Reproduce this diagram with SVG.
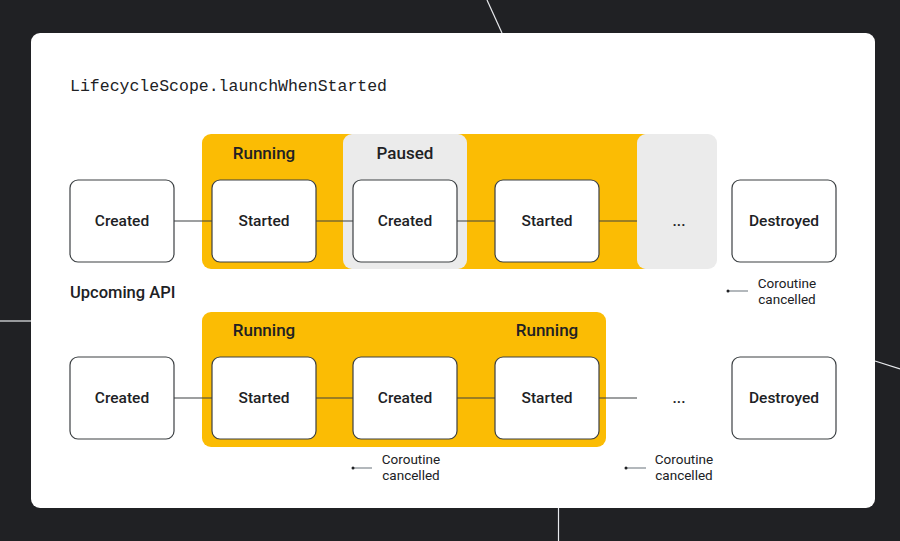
<svg xmlns="http://www.w3.org/2000/svg" width="900" height="541" viewBox="0 0 900 541">
<style>
.node rect{fill:#fff;stroke:#3c4043;stroke-width:1.2}
.lbl{font-family:Roboto,"Liberation Sans",sans-serif;font-weight:500;font-size:15.5px;fill:#202124;text-anchor:middle}
.grp{font-family:Roboto,"Liberation Sans",sans-serif;font-weight:500;font-size:17px;fill:#202124;text-anchor:middle}
.note{font-family:Roboto,"Liberation Sans",sans-serif;font-size:13.5px;fill:#202124;text-anchor:middle}
.conn line{stroke:#3c4043;stroke-width:1.2}
.dash{stroke:#9aa0a6;stroke-width:1.5}
.deco{stroke:#e8eaed;stroke-width:1.2}
</style>
<rect width="900" height="541" fill="#202124"/>
<line class="deco" x1="487" y1="0" x2="502" y2="33"/>
<line class="deco" x1="0" y1="321" x2="31" y2="321"/>
<line class="deco" x1="558.5" y1="508" x2="558.5" y2="541"/>
<line class="deco" x1="875" y1="361" x2="900" y2="369"/>
<rect x="31" y="33" width="844" height="475" rx="9" fill="#fff"/>
<text x="70" y="91" font-family="'Liberation Mono',monospace" font-size="16" fill="#202124" textLength="317" lengthAdjust="spacingAndGlyphs">LifecycleScope.launchWhenStarted</text>
<text x="70" y="298" font-family="Roboto,'Liberation Sans',sans-serif" font-weight="500" font-size="16.5" fill="#202124">Upcoming API</text>

<g id="band1">
<rect x="202" y="134" width="450" height="135" rx="9" fill="#fbbc04"/>
<rect x="343" y="134" width="124" height="135" rx="9" fill="#ebebeb"/>
<rect x="637" y="134" width="80" height="135" rx="9" fill="#ebebeb"/>
<text class="grp" x="264" y="159">Running</text>
<text class="grp" x="405" y="159">Paused</text>
</g>
<g id="band2">
<rect x="202" y="312" width="404" height="135" rx="9" fill="#fbbc04"/>
<text class="grp" x="264" y="336">Running</text>
<text class="grp" x="547" y="336">Running</text>
</g>

<g class="conn" id="connectors">
<line x1="174" y1="221" x2="212" y2="221"/>
<line x1="316" y1="221" x2="353" y2="221"/>
<line x1="457" y1="221" x2="495" y2="221"/>
<line x1="599" y1="221" x2="637" y2="221"/>
<line x1="174" y1="398" x2="212" y2="398"/>
<line x1="316" y1="398" x2="353" y2="398"/>
<line x1="457" y1="398" x2="495" y2="398"/>
<line x1="599" y1="398" x2="637" y2="398"/>
</g>

<g id="r1-created" class="node"><rect x="70" y="180" width="104" height="82" rx="8"/><text class="lbl" x="122" y="226">Created</text></g>
<g id="r1-started" class="node"><rect x="212" y="180" width="104" height="82" rx="8"/><text class="lbl" x="264" y="226">Started</text></g>
<g id="r1-created2" class="node"><rect x="353" y="180" width="104" height="82" rx="8"/><text class="lbl" x="405" y="226">Created</text></g>
<g id="r1-started2" class="node"><rect x="495" y="180" width="104" height="82" rx="8"/><text class="lbl" x="547" y="226">Started</text></g>
<g id="r1-more"><text class="lbl" x="679" y="226">...</text></g>
<g id="r1-destroyed" class="node"><rect x="732" y="180" width="104" height="82" rx="8"/><text class="lbl" x="784" y="226">Destroyed</text></g>

<g id="r2-created" class="node"><rect x="70" y="357" width="104" height="82" rx="8"/><text class="lbl" x="122" y="403">Created</text></g>
<g id="r2-started" class="node"><rect x="212" y="357" width="104" height="82" rx="8"/><text class="lbl" x="264" y="403">Started</text></g>
<g id="r2-created2" class="node"><rect x="353" y="357" width="104" height="82" rx="8"/><text class="lbl" x="405" y="403">Created</text></g>
<g id="r2-started2" class="node"><rect x="495" y="357" width="104" height="82" rx="8"/><text class="lbl" x="547" y="403">Started</text></g>
<g id="r2-more"><text class="lbl" x="679" y="403">...</text></g>
<g id="r2-destroyed" class="node"><rect x="732" y="357" width="104" height="82" rx="8"/><text class="lbl" x="784" y="403">Destroyed</text></g>

<g id="note1">
<line class="dash" x1="728" y1="291" x2="748" y2="291"/><circle cx="728" cy="291" r="1.5" fill="#202124"/>
<text class="note" x="787" y="288">Coroutine</text><text class="note" x="787" y="304">cancelled</text>
</g>
<g id="note2">
<line class="dash" x1="353" y1="468" x2="372" y2="468"/><circle cx="353" cy="468" r="1.5" fill="#202124"/>
<text class="note" x="411" y="464">Coroutine</text><text class="note" x="411" y="480">cancelled</text>
</g>
<g id="note3">
<line class="dash" x1="626" y1="468" x2="646" y2="468"/><circle cx="626" cy="468" r="1.5" fill="#202124"/>
<text class="note" x="684" y="464">Coroutine</text><text class="note" x="684" y="480">cancelled</text>
</g>
</svg>
